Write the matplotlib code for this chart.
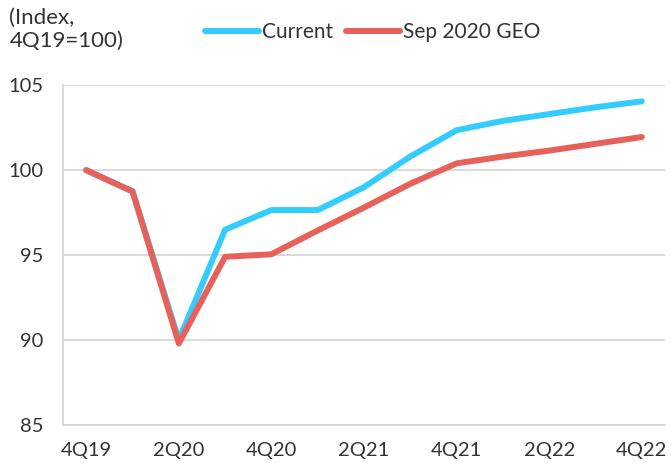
import matplotlib.pyplot as plt
import numpy as np

plt.rcParams["font.family"] = ["Lato", "DejaVu Sans"]

QUARTERS = ["4Q19", "1Q20", "2Q20", "3Q20", "4Q20", "1Q21", "2Q21",
            "3Q21", "4Q21", "1Q22", "2Q22", "3Q22", "4Q22"]
CURRENT = [100.0, 98.75, 90.0, 96.5, 97.65, 97.65, 99.0,
           100.8, 102.35, 102.9, 103.3, 103.7, 104.05]
SEP_2020_GEO = [100.0, 98.75, 89.8, 94.9, 95.05, 96.45, 97.8,
                99.2, 100.4, 100.8, 101.15, 101.55, 101.95]
Y_TICKS = [85, 90, 95, 100, 105]

BLUE = "#33CCFF"
RED = "#E8605A"
GRID = "#D3D3D3"
TEXT = "#333333"


def main():
    fig = plt.figure(figsize=(6.71, 4.63), dpi=100)
    ax = fig.add_axes([0.094, 0.082, 0.897, 0.734])

    x = np.arange(len(QUARTERS))
    ax.plot(x, CURRENT, color=BLUE, linewidth=4.3, solid_capstyle="round",
            solid_joinstyle="round", label="Current", zorder=3)
    ax.plot(x, SEP_2020_GEO, color=RED, linewidth=4.3, solid_capstyle="round",
            solid_joinstyle="round", label="Sep 2020 GEO", zorder=4)

    ax.set_xlim(-0.5, len(QUARTERS) - 0.5)
    ax.set_ylim(85, 105)
    ax.set_yticks(Y_TICKS)
    ax.set_xticks(x[::2])
    ax.set_xticklabels(QUARTERS[::2])
    ax.yaxis.grid(True, color=GRID, linewidth=1.2)
    ax.set_axisbelow(True)

    for side in ["top", "right"]:
        ax.spines[side].set_visible(False)
    for side in ["left", "bottom"]:
        ax.spines[side].set_color(GRID)
        ax.spines[side].set_linewidth(1.2)

    ax.tick_params(axis="both", length=0, labelsize=14.5, colors=TEXT)
    ax.tick_params(axis="y", pad=14)
    ax.tick_params(axis="x", pad=12)

    fig.text(0.014, 0.982, "(Index,\n4Q19=100)", ha="left", va="top",
             fontsize=16, color=TEXT, linespacing=1.15)

    fig.legend(loc="center", bbox_to_anchor=(0.555, 0.93), ncol=2,
               frameon=False, fontsize=15, handlelength=2.6, handletextpad=0.15,
               columnspacing=0.6, labelcolor=TEXT)

    fig.savefig("out.png", dpi=100)
    plt.close("all")


if __name__ == "__main__":
    main()
